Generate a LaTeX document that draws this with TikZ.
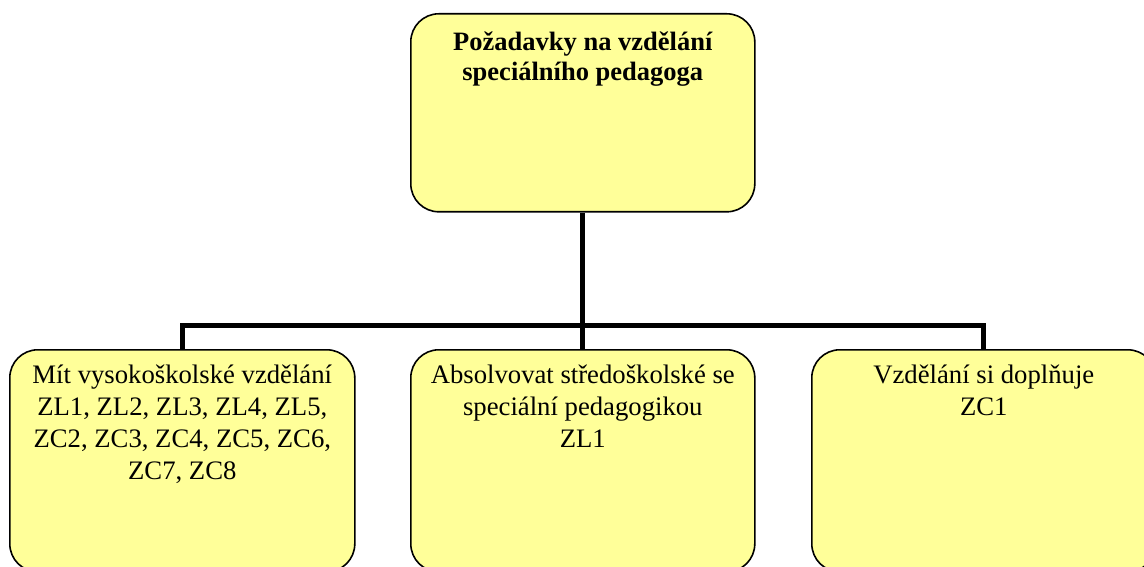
\documentclass[tikz,border=0pt]{standalone}
\usepackage{fontspec}
\setmainfont{Liberation Serif}
\usetikzlibrary{backgrounds}
\definecolor{boxyellow}{HTML}{FFFF99}
% box body: width, height, top gap, text
\newcommand{\cellbody}[4]{\parbox[c][#2][t]{#1}{\centering\vspace*{#3}#4\par}}
\begin{document}
\begin{tikzpicture}[x=1pt,y=-1pt,
  box/.style={draw=black, line width=1.6pt, fill=boxyellow, rounded corners=28pt,
              inner sep=0pt, anchor=north west},
  conn/.style={draw=black, line width=5pt},
  headtext/.style={font=\fontsize{26.5}{30}\selectfont\bfseries},
  bodytext/.style={font=\fontsize{26.7}{31.8}\selectfont}]
\useasboundingbox (0,0) rectangle (1144,567);

\path (410,13) node[box, headtext] (top)
  {\cellbody{344pt}{198pt}{16pt}{\strut Požadavky na vzdělání\\ speciálního pedagoga}};

\path (9,349) node[box, bodytext] (left)
  {\cellbody{345pt}{222pt}{11.8pt}{\strut Mít vysokoškolské vzdělání\\ ZL1, ZL2, ZL3, ZL4, ZL5,\\ ZC2, ZC3, ZC4, ZC5, ZC6,\\ ZC7, ZC8}};
\path (410,349) node[box, bodytext] (mid)
  {\cellbody{344pt}{222pt}{11.8pt}{\strut Absolvovat středoškolské se\\ speciální pedagogikou\\ ZL1}};
\path (811,349) node[box, bodytext] (right)
  {\cellbody{344pt}{222pt}{11.8pt}{\strut Vzdělání si doplňuje\\ ZC1}};

% tree connectors behind the boxes
\begin{scope}[on background layer]
  \coordinate (bus) at (top.south |- 0,325);
  \draw[conn] (top.south) -- (mid.north);
  \draw[conn] (left.north) |- (bus) -| (right.north);
\end{scope}
\end{tikzpicture}
\end{document}
